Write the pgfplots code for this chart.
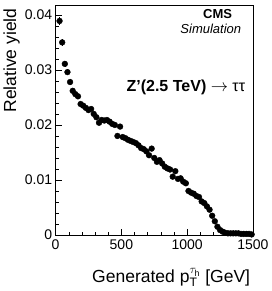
\documentclass[border=0pt]{standalone}
\usepackage{pgfplots}
\pgfplotsset{compat=1.18}
\usepackage{fontspec}
\setmainfont{Liberation Sans}
\begin{document}
\begin{tikzpicture}
\begin{axis}[
  scale only axis, width=198pt, height=230pt,
  xmin=0, xmax=1505, ymin=0, ymax=0.0418,
  xtick={0,500,1000,1500}, xticklabels={0,500,1000,1500}, minor x tick num=4,
  ytick={0,0.01,0.02,0.03,0.04}, yticklabels={0,0.01,0.02,0.03,0.04}, minor y tick num=4,
  tick pos=left, tick align=inside,
  major tick length=6pt, minor tick length=3pt,
  axis line style={line width=0.6pt},
  tick style={line width=0.5pt, black},
  /pgf/number format/assume math mode=true,
  /pgf/number format/1000 sep={},
  ticklabel style={font=\fontsize{14}{16}\selectfont},
  xticklabel style={yshift=-1pt},
  scaled y ticks=false,
  xlabel={Generated p$_{\mathrm{T}}^{\tau_{\mathrm{h}}}$ [GeV]},
  ylabel={Relative yield},
  label style={font=\fontsize{17.5}{20}\selectfont},
  x label style={at={(axis description cs:1,-0.205)}, anchor=base east},
  y label style={at={(axis description cs:-0.20,1)}, anchor=base east, rotate=0},
  clip=false,
]
\addplot[only marks, mark=*, mark size=2.9pt, black,
  error bars/.cd, y dir=both, y explicit, error mark=none]
  table[x=x, y=y, y error=e] {
x y e
30 0.0389 0.0007
50 0.0350 0.0006
70 0.0311 0.0006
90 0.0296 0.0005
110 0.0278 0.0005
130 0.0262 0.0005
150 0.0256 0.0004
170 0.0252 0.0004
190 0.0238 0.0004
210 0.0235 0.0004
230 0.0231 0.0004
250 0.0227 0.0004
270 0.0229 0.0004
290 0.0220 0.0004
310 0.0214 0.0004
330 0.0204 0.0004
350 0.0209 0.0004
370 0.0208 0.0004
390 0.0209 0.0004
410 0.0206 0.0004
430 0.0202 0.0004
450 0.0200 0.0004
470 0.0180 0.0004
490 0.0197 0.0004
510 0.0178 0.0004
530 0.0176 0.0004
550 0.0173 0.0004
570 0.0171 0.0004
590 0.0169 0.0004
610 0.0167 0.0004
630 0.0163 0.0004
650 0.0158 0.0004
670 0.0156 0.0004
690 0.0152 0.0004
710 0.0145 0.0004
730 0.0157 0.0004
750 0.0140 0.0004
770 0.0133 0.0004
790 0.0136 0.0004
810 0.0130 0.0004
830 0.0124 0.0004
850 0.0121 0.0004
870 0.0119 0.0004
890 0.0106 0.0003
910 0.0116 0.0003
930 0.0102 0.0003
950 0.0103 0.0003
970 0.0097 0.0003
990 0.0094 0.0003
1010 0.0080 0.0003
1030 0.0077 0.0003
1050 0.0075 0.0003
1070 0.0071 0.0003
1090 0.0069 0.0003
1110 0.0061 0.0003
1130 0.0058 0.0003
1150 0.0052 0.0003
1170 0.0046 0.0003
1190 0.0035 0.0002
1210 0.0025 0.0002
1230 0.0015 0.0002
1250 0.0009 0.0002
1270 0.0006 0.0001
1290 0.0004 0.0001
1310 0.0003 0.0001
1330 0.0003 0.0001
1350 0.0003 0.0001
1370 0.0003 0.0001
1390 0.0003 0.0001
1410 0.0002 0.0001
1430 0.0002 0.0001
1450 0.0002 0.0001
1470 0.0002 0.0001
1490 0.0001 0.0001
};
\node[anchor=base east, font=\bfseries\fontsize{13}{15}\selectfont] at (rel axis cs:0.909,0.943) {CMS};
\node[anchor=base east, font=\itshape\fontsize{13}{15}\selectfont] at (rel axis cs:0.955,0.878) {Simulation};
\node[anchor=base east, font=\fontsize{16}{18}\selectfont] at (rel axis cs:0.975,0.622) {\textbf{Z'(2.5 TeV)} $\rightarrow$ ττ};
\end{axis}
\path (current axis.south west) ++(-53pt,-56pt) rectangle ++(266pt,291pt);
\end{tikzpicture}
\end{document}
